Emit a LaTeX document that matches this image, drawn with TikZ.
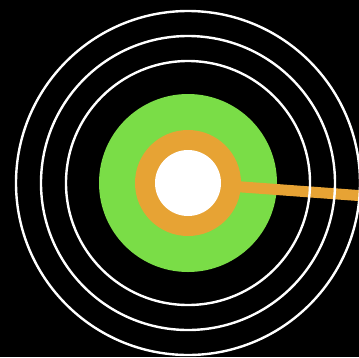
\documentclass[tikz,border=0pt]{standalone}
\definecolor{targetgreen}{RGB}{122,221,71}
\definecolor{targetorange}{RGB}{231,163,52}
\begin{document}
\begin{tikzpicture}[x=1pt,y=-1pt]
      \fill[black] (0,0) rectangle (359,357);
      \clip (0,0) rectangle (359,357);
      \coordinate (c) at (188,183);
      \begin{scope}
        \fill[targetgreen] (c) circle (89);
        \draw[targetorange,line width=11pt] (c) -- ++(4.2:220);
        \fill[targetorange] (c) circle (53);
        \fill[white] (c) circle (33);
        \foreach \r in {122,147,172}
          \draw[white,line width=2.4pt] (c) circle (\r);
      \end{scope}
  \end{tikzpicture}
\end{document}
